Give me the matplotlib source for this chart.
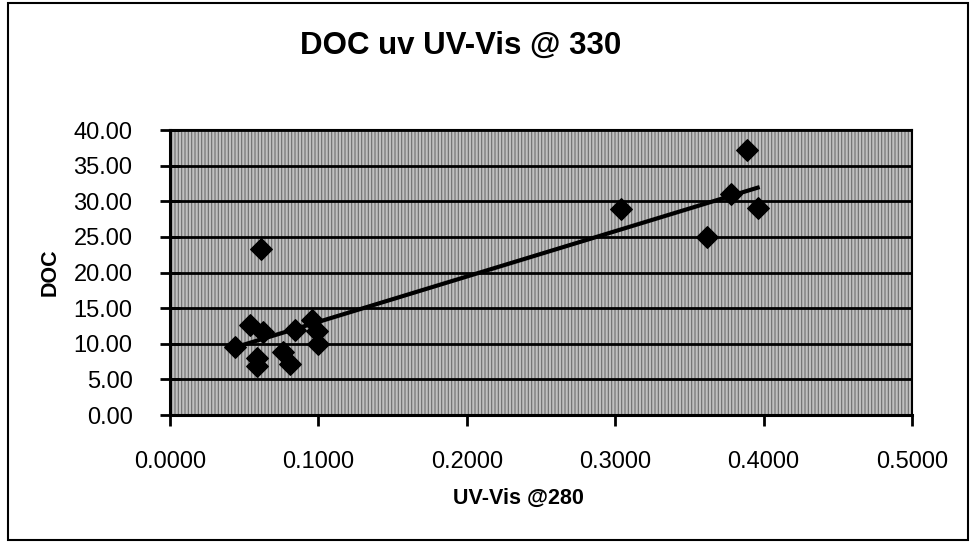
import numpy as np
import matplotlib
matplotlib.use("Agg")
import matplotlib.pyplot as plt
from matplotlib.patches import Rectangle

# readings from the scanned chart
uv_280 = [0.044, 0.054, 0.0626, 0.0586, 0.0586, 0.0615, 0.076, 0.081, 0.084,
          0.0956, 0.099, 0.0995, 0.304, 0.362, 0.378, 0.3886, 0.396]
doc = [9.5, 12.6, 11.6, 8.0, 6.9, 23.3, 8.9, 7.2, 11.9,
       13.3, 11.8, 9.9, 28.9, 25.0, 31.0, 37.2, 29.1]

x_ticks = [0.0, 0.1, 0.2, 0.3, 0.4, 0.5]
y_ticks = [0, 5, 10, 15, 20, 25, 30, 35, 40]

plt.rcParams['font.family'] = ['Liberation Sans', 'DejaVu Sans']
plt.rcParams['hatch.linewidth'] = 0.8

fig = plt.figure(figsize=(9.75, 5.48), dpi=100)
ax = fig.add_axes([0.1744, 0.2427, 0.761, 0.520])

# grey hatched plot area like the old excel print
ax.set_facecolor('#c0c0c0')
ax.add_patch(Rectangle((0, 0), 1, 1, transform=ax.transAxes, facecolor='none',
                       edgecolor='#6e6e6e', hatch='|||||', linewidth=0, zorder=0))

ax.set_xlim(0, 0.5)
ax.set_ylim(0, 40)
ax.set_xticks(x_ticks)
ax.set_yticks(y_ticks)
ax.set_xticklabels([f"{v:.4f}" for v in x_ticks])
ax.set_yticklabels([f"{v:.2f}" for v in y_ticks])

for v in y_ticks[1:]:
    ax.axhline(v, color='black', linewidth=2.0, zorder=1)

ax.scatter(uv_280, doc, marker='D', s=120, color='black', zorder=3)

# linear trend line over the data range
m, b = np.polyfit(uv_280, doc, 1)
xs = np.array([min(uv_280), max(uv_280)])
ax.plot(xs, m * xs + b, color='black', linewidth=3, zorder=2)

for side in ['left', 'bottom']:
    ax.spines[side].set_linewidth(2.2)
for side in ['top', 'right']:
    ax.spines[side].set_linewidth(1.5)

ax.tick_params(axis='y', direction='inout', length=14, width=2, pad=20, labelsize=17)
ax.tick_params(axis='x', direction='out', length=8, width=2, pad=18, labelsize=17)

ax.set_xlabel("UV-Vis @280", fontsize=15.5, fontweight='bold')
ax.xaxis.set_label_coords(0.47, -0.255)
ax.set_ylabel("DOC", fontsize=15.5, fontweight='bold')
ax.yaxis.set_label_coords(-0.147, 0.5)

fig.text(0.472, 0.917, "DOC uv UV-Vis @ 330", ha='center', va='center',
         fontsize=22.5, fontweight='bold')

# outer chart border
fig.patches.append(Rectangle((0.008, 0.014), 0.985, 0.98, transform=fig.transFigure,
                             facecolor='none', edgecolor='black', linewidth=1.5))

fig.savefig("out.png", dpi=100)
